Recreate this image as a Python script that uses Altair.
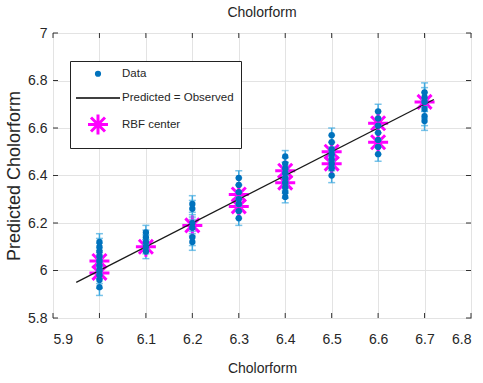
import altair as alt
import pandas as pd

# ---------------- data ----------------
x_ticks = [5.9, 6.0, 6.1, 6.2, 6.3, 6.4, 6.5, 6.6, 6.7, 6.8]
y_ticks = [5.8, 6.0, 6.2, 6.4, 6.6, 6.8, 7.0]

obs_levels = [6.0, 6.1, 6.2, 6.3, 6.4, 6.5, 6.6, 6.7]
pred_600 = [5.93, 5.96, 5.98, 6.00, 6.02, 6.04, 6.06, 6.08, 6.10, 6.12]
pred_610 = [6.08, 6.10, 6.12, 6.14, 6.16]
pred_620 = [6.12, 6.14, 6.18, 6.20, 6.26, 6.28]
pred_630 = [6.22, 6.25, 6.28, 6.30, 6.33, 6.36, 6.39]
pred_640 = [6.31, 6.33, 6.35, 6.37, 6.39, 6.41, 6.43, 6.45, 6.48]
pred_650 = [6.40, 6.43, 6.45, 6.47, 6.49, 6.51, 6.54, 6.57]
pred_660 = [6.49, 6.52, 6.55, 6.58, 6.61, 6.64, 6.67]
pred_670 = [6.63, 6.65, 6.68, 6.71, 6.73, 6.75]
err_levels = [0.035, 0.03, 0.035, 0.03, 0.025, 0.03, 0.03, 0.04]

rbf_obs = [6.0, 6.0, 6.1, 6.2, 6.3, 6.3, 6.4, 6.4, 6.5, 6.5, 6.6, 6.6, 6.7]
rbf_pred = [6.04, 5.99, 6.10, 6.19, 6.32, 6.27, 6.42, 6.37, 6.50, 6.45, 6.62, 6.54, 6.71]

line_obs = [5.95, 6.72]
line_pred = [5.95, 6.72]

legend_labels = ["Data", "Predicted = Observed", "RBF center"]
legend_colors = ["#0072BD", "#000000", "#FF00FF"]

# ---------------- tables ----------------
groups = [pred_600, pred_610, pred_620, pred_630, pred_640, pred_650, pred_660, pred_670]
rows = []
for xo, preds, e in zip(obs_levels, groups, err_levels):
    for p in preds:
        rows.append({"obs": xo, "pred": p, "lo": p - e, "hi": p + e})
data_df = pd.DataFrame(rows)
rbf_df = pd.DataFrame({"obs": rbf_obs, "pred": rbf_pred, "series": "RBF center"})
line_df = pd.DataFrame({"obs": line_obs, "pred": line_pred})
xt_df = pd.DataFrame({"t": x_ticks})
yt_df = pd.DataFrame({"t": y_ticks})

W, H = 418, 285
FONT = "Liberation Sans, Arial, sans-serif"
TXT = "#262626"
ASTER = "M0,-1L0,1M-1,0L1,0M-0.7,-0.7L0.7,0.7M-0.7,0.7L0.7,-0.7"
WIDE_STROKE = "M-2,0L2,0"

xsc = alt.Scale(domain=[5.9, 6.8], nice=False, zero=False)
ysc = alt.Scale(domain=[5.8, 7.0], nice=False, zero=False)

xax = alt.Axis(values=x_ticks, format="~g", title="Cholorform", grid=True,
               labelPadding=14, titlePadding=15)
yax = alt.Axis(values=y_ticks, format="~g", title="Predicted Cholorform", grid=True,
               labelPadding=6, titlePadding=4, titleFontSize=18)

base = alt.Chart(data_df)

errbars = base.mark_rule(color="#3FA9E0", strokeWidth=1.5).encode(
    x=alt.X("obs:Q", scale=xsc, axis=xax),
    y=alt.Y("lo:Q", scale=ysc, axis=yax),
    y2="hi:Q",
)
cap_lo = base.mark_tick(color="#3FA9E0", orient="horizontal", size=7, thickness=1.5).encode(
    x=alt.X("obs:Q", scale=xsc), y=alt.Y("lo:Q", scale=ysc))
cap_hi = base.mark_tick(color="#3FA9E0", orient="horizontal", size=7, thickness=1.5).encode(
    x=alt.X("obs:Q", scale=xsc), y=alt.Y("hi:Q", scale=ysc))
points = base.mark_point(filled=True, shape="circle", size=40, color="#0072BD", opacity=1).encode(
    x=alt.X("obs:Q", scale=xsc), y=alt.Y("pred:Q", scale=ysc))

line = alt.Chart(line_df).mark_line(color="#1a1a1a", strokeWidth=1.3).encode(
    x=alt.X("obs:Q", scale=xsc), y=alt.Y("pred:Q", scale=ysc))

legend = alt.Legend(
    orient="none", legendX=17, legendY=28, title=None,
    fillColor="white", strokeColor="#222222", padding=7, symbolOffset=9,
    labelFont=FONT, labelFontSize=11.5, labelColor=TXT, labelLimit=300,
    labelOffset=12, rowPadding=4, symbolOpacity=1,
)

stars = alt.Chart(rbf_df).mark_point(filled=False, opacity=1).encode(
    x=alt.X("obs:Q", scale=xsc), y=alt.Y("pred:Q", scale=ysc),
    color=alt.Color("series:N", scale=alt.Scale(domain=legend_labels, range=legend_colors),
                    legend=legend),
    shape=alt.Shape("series:N", scale=alt.Scale(domain=legend_labels,
                                                range=["circle", WIDE_STROKE, ASTER]),
                    legend=legend),
    size=alt.Size("series:N", scale=alt.Scale(type="ordinal", domain=legend_labels,
                                              range=[9, 484, 400]),
                  legend=legend),
    strokeWidth=alt.StrokeWidth("series:N", scale=alt.Scale(type="ordinal",
                                                            domain=legend_labels,
                                                            range=[3.2, 1.3, 3]),
                                legend=legend),
)

tcol = "#333333"
tb = alt.Chart(xt_df).mark_rule(color=tcol).encode(
    x=alt.X("t:Q", scale=xsc), y=alt.value(H), y2=alt.value(H - 5))
tt = alt.Chart(xt_df).mark_rule(color=tcol).encode(
    x=alt.X("t:Q", scale=xsc), y=alt.value(0), y2=alt.value(5))
tl = alt.Chart(yt_df).mark_rule(color=tcol).encode(
    y=alt.Y("t:Q", scale=ysc), x=alt.value(0), x2=alt.value(5))
tr = alt.Chart(yt_df).mark_rule(color=tcol).encode(
    y=alt.Y("t:Q", scale=ysc), x=alt.value(W), x2=alt.value(W - 5))

chart = alt.layer(
    errbars, tb, tt, tl, tr, stars, line, cap_lo, cap_hi, points
).properties(
    width=W, height=H,
    background="white",
    title=alt.TitleParams("Cholorform", font=FONT, fontSize=14, fontWeight="normal",
                          color=TXT, offset=6, anchor="middle"),
    padding={"left": 53, "top": 33, "right": 12, "bottom": 65},
    autosize=alt.AutoSizeParams(type="none"),
).configure_view(
    stroke="#262626", strokeWidth=1
).configure_axis(
    labelFont=FONT, labelFontSize=14, labelColor=TXT,
    titleFont=FONT, titleFontSize=14, titleColor=TXT, titleFontWeight="normal",
    gridColor="#e3e3e3", gridWidth=1, domain=False, ticks=False, tickSize=0,
)

chart.save("out.html", embed_options={"renderer": "svg", "actions": False})
